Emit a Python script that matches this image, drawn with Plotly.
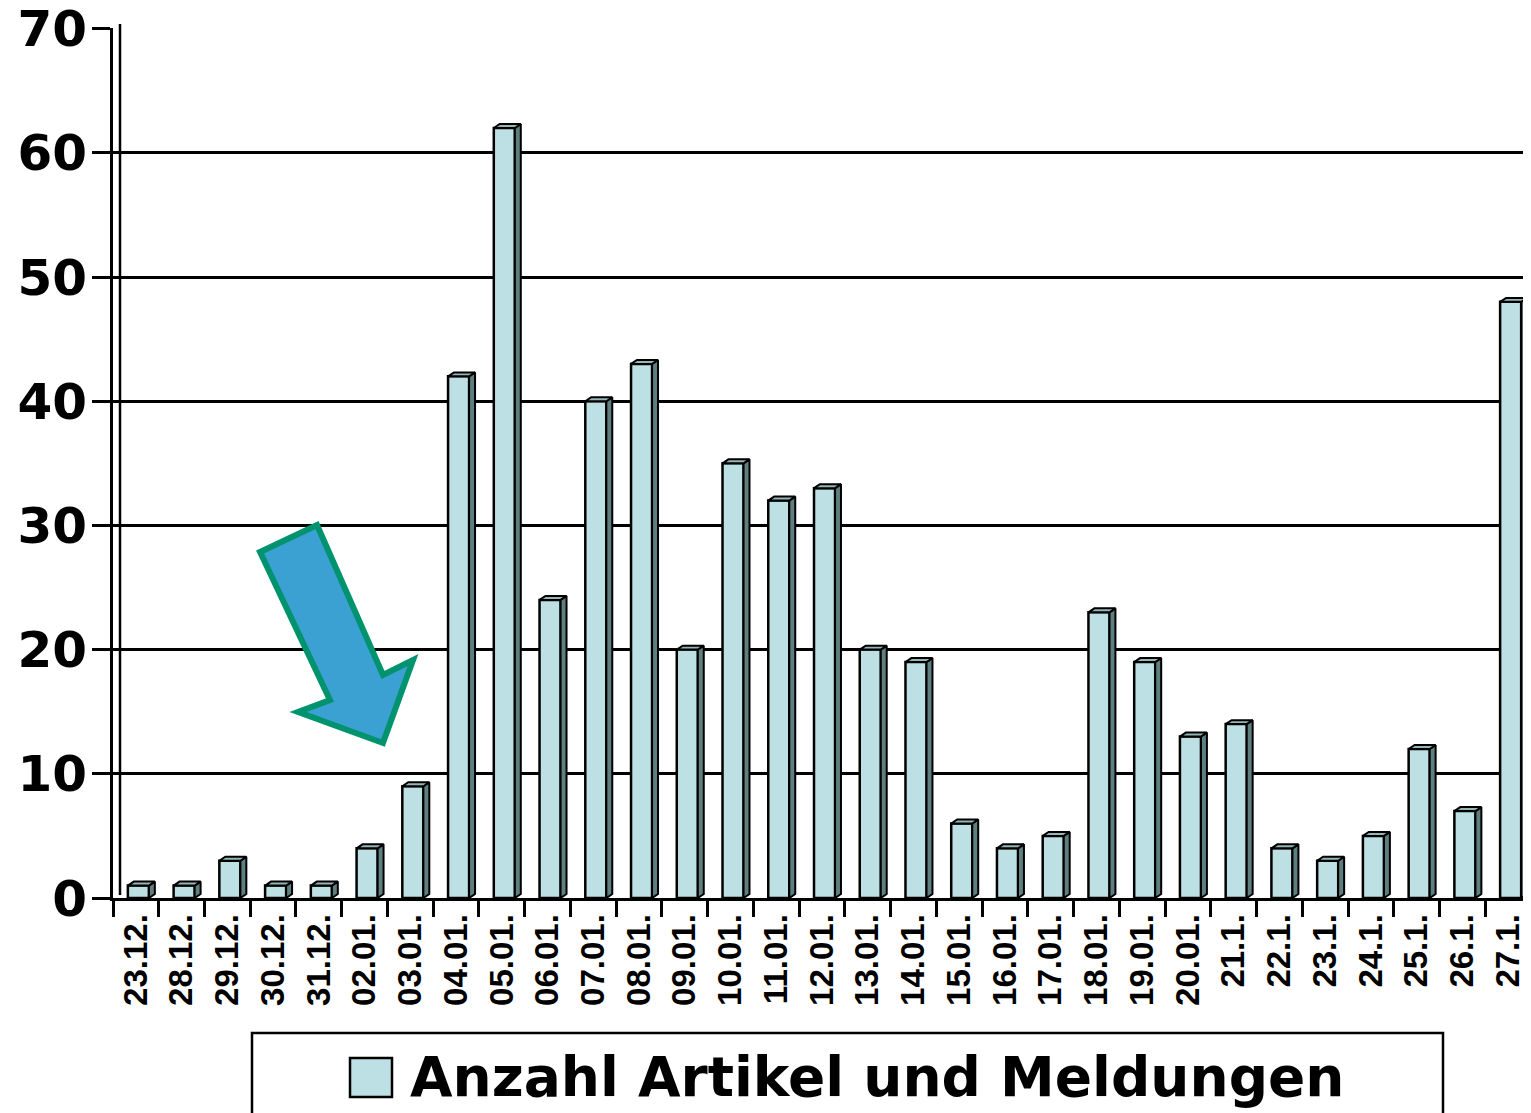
import plotly.graph_objects as go

FRONT = "#bce0e3"
SIDE = "#5e7e80"
TOP = "#94b6b8"
ARROW_FILL = "#3ba0d2"
ARROW_LINE = "#00936e"
FONT = "Liberation Sans, Arial, sans-serif"
WIDE = "DejaVu Sans, Verdana, sans-serif"

dates = ["23.12.", "28.12.", "29.12.", "30.12.", "31.12.", "02.01.", "03.01.",
         "04.01.", "05.01.", "06.01.", "07.01.", "08.01.", "09.01.", "10.01.",
         "11.01.", "12.01.", "13.01.", "14.01.", "15.01.", "16.01.", "17.01.",
         "18.01.", "19.01.", "20.01.", "21.1.", "22.1.", "23.1.", "24.1.",
         "25.1.", "26.1.", "27.1."]
counts = [1, 1, 3, 1, 1, 4, 9, 42, 62, 24, 40, 43, 20, 35, 32, 33, 20, 19,
          6, 4, 5, 23, 19, 13, 14, 4, 3, 5, 12, 7, 48]
y_ticks = [0, 10, 20, 30, 40, 50, 60, 70]
legend_label = "Anzahl Artikel und Meldungen"

# page has an 8px body margin, so the figure is a bit smaller than the window
PAD = 8
W, H = 1531 - PAD, 1113 - PAD
L, T, R = 113 - PAD, 28 - PAD, 0
B = H - (898 - PAD)
PW, PH = W - L - R, H - T - B

# 3D look: bar front offset/width and depth of side/top faces (axis units)
OFF, BW, DX, DY = -0.175, 0.46, 0.13, 0.32


def px(x, y):
    # page pixel -> paper fraction
    return (x - PAD - L) / PW, (H - B - (y - PAD)) / PH


xs = list(range(len(dates)))

fig = go.Figure()

fig.add_trace(go.Bar(
    x=xs, y=counts, width=BW, offset=OFF,
    marker=dict(color=FRONT, line=dict(color="black", width=2.5)),
    showlegend=False, hoverinfo="x+y"
))

side_x, side_y, top_x, top_y = [], [], [], []
for x, v in zip(xs, counts):
    x0, x1 = x + OFF, x + OFF + BW
    side_x += [x1, x1 + DX, x1 + DX, x1, x1, None]
    side_y += [0, DY, v + DY, v, 0, None]
    top_x += [x0, x0 + DX, x1 + DX, x1, x0, None]
    top_y += [v, v + DY, v + DY, v, v, None]

fig.add_trace(go.Scatter(x=side_x, y=side_y, mode="lines", fill="toself",
                         fillcolor=SIDE, line=dict(color="black", width=2),
                         showlegend=False, hoverinfo="skip"))
fig.add_trace(go.Scatter(x=top_x, y=top_y, mode="lines", fill="toself",
                         fillcolor=TOP, line=dict(color="black", width=2),
                         showlegend=False, hoverinfo="skip"))

# arrow (decoration, page pixel coordinates)
arrow_pts = [(260, 552), (317, 525), (383, 675), (413, 660), (383, 743),
             (298, 712), (330, 700)]
path = ""
for i, (ax, ay) in enumerate(arrow_pts):
    u, v = px(ax, ay)
    path += ("M" if i == 0 else "L") + f"{u:.4f},{v:.4f} "
path += "Z"

shapes = [
    dict(type="path", xref="paper", yref="paper", path=path,
         fillcolor=ARROW_FILL, line=dict(color=ARROW_LINE, width=6), layer="above"),
    # back wall edge of the y axis
    dict(type="line", xref="paper", yref="paper",
         x0=px(120, 0)[0], x1=px(120, 0)[0], y0=px(0, 895)[1], y1=px(0, 24)[1],
         line=dict(color="black", width=2.5)),
]

# legend box
lx0, ly0 = px(252, 1033)
lx1, ly1 = px(1443, 1125)
shapes.append(dict(type="rect", xref="paper", yref="paper", x0=lx0, x1=lx1, y0=ly0, y1=ly1,
                   line=dict(color="black", width=2.5), fillcolor="white"))
sx0, sy0 = px(350, 1058)
sx1, sy1 = px(392, 1097)
shapes.append(dict(type="rect", xref="paper", yref="paper", x0=sx0, x1=sx1, y0=sy0, y1=sy1,
                   line=dict(color="black", width=2.5), fillcolor=FRONT))

tx, ty = px(408, 1077)
fig.add_annotation(xref="paper", yref="paper", x=tx, y=ty, xanchor="left", yanchor="middle",
                   text=f"<b>{legend_label}</b>", showarrow=False,
                   font=dict(size=55, color="black", family=WIDE))

fig.update_layout(
    width=W, height=H,
    paper_bgcolor="white", plot_bgcolor="white",
    margin=dict(l=L, r=R, t=T, b=B, autoexpand=False),
    font=dict(family=FONT, color="black"),
    shapes=shapes,
)
fig.update_xaxes(
    range=[-0.5, 30.5], tickvals=xs, ticktext=dates, tickangle=-90,
    tickfont=dict(size=33, weight="bold", family=FONT), ticks="",
    minor=dict(tick0=0.5, dtick=1, ticks="outside", ticklen=16, tickwidth=3, tickcolor="black"),
    showline=True, linecolor="black", linewidth=3, showgrid=False, zeroline=False,
    fixedrange=True, automargin=False,
)
fig.update_yaxes(
    range=[0, 70.05], tickvals=y_ticks, ticks="outside", ticklen=18, tickwidth=3,
    tickcolor="black", tickfont=dict(size=50, weight="bold", family=WIDE),
    ticklabelstandoff=-5, ticklabeloverflow="allow",
    showgrid=True, gridcolor="black", gridwidth=2.5, showline=True,
    linecolor="black", linewidth=3, zeroline=False, fixedrange=True, automargin=False,
)

fig.write_html("out.html")
